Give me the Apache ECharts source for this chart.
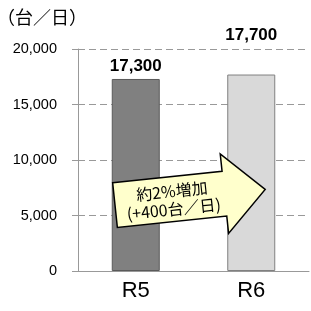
<!DOCTYPE html>
<html><head><meta charset="utf-8">
<script src="https://cdn.jsdelivr.net/npm/echarts@6/dist/echarts.min.js"></script>
<style>html,body{margin:0;padding:0;background:#fff}#c{width:311px;height:311px}</style>
</head><body><div id="c"></div>
<script>
const categories = ['R5', 'R6'];
const values = [17300, 17700];
const yTicks = [0, 5000, 10000, 15000, 20000];
const unitLabel = '（台／日）';
const arrowText = ['約2%増加', '(+400台／日)'];

const chart = echarts.init(document.getElementById('c'), null, {renderer: 'canvas'});
const fills = ['#808080', '#d9d9d9'];
const borders = ['#5a5a5a', '#808080'];
const labelOffsets = [[0, 0], [0, -27]];
const data = values.map((v, i) => ({
  value: v,
  itemStyle: {color: fills[i], borderColor: borders[i], borderWidth: 1},
  label: {offset: labelOffsets[i]}
}));
const font = 'Arial, "Liberation Sans", sans-serif';
const cjk = '"Noto Sans CJK JP", sans-serif';
chart.setOption({
  animation: false,
  grid: {left: 78, right: 2, top: 49, bottom: 40},
  xAxis: {
    type: 'category', data: categories,
    axisLine: {lineStyle: {color: '#999'}},
    axisTick: {length: 7, lineStyle: {color: '#999'}},
    axisLabel: {fontSize: 22, color: '#000', fontFamily: font, margin: 9}
  },
  yAxis: {
    type: 'value', min: yTicks[0], max: yTicks[yTicks.length - 1], interval: yTicks[1] - yTicks[0],
    axisLine: {show: true, lineStyle: {color: '#999'}},
    axisTick: {show: true, length: 6, lineStyle: {color: '#999'}},
    splitLine: {lineStyle: {color: '#999', type: [7, 4], width: 1}},
    axisLabel: {fontSize: 14.5, color: '#000', fontFamily: font, margin: 21,
      formatter: v => v.toLocaleString('en-US')}
  },
  graphic: [
    {type: 'text', x: -3, y: 17.5, style: {text: unitLabel, fontSize: 18, fill: '#000', verticalAlign: 'middle', fontFamily: cjk}},
    {type: 'group', x: 189.6, y: 197.3, rotation: 6 * Math.PI / 180, z: 100, zlevel: 1,
      children: [
        {type: 'polygon', z: 100, zlevel: 1, shape: {points: [[-75, -22.5], [35, -22.5], [35, -40], [76, 0], [35, 40], [35, 22.5], [-75, 22.5]]},
          style: {fill: '#ffffcc', stroke: '#000', lineWidth: 1.5}},
        {type: 'text', z: 101, zlevel: 1, x: -17, y: 1, style: {text: arrowText.join('\n'), fontSize: 16, lineHeight: 18, fill: '#000',
          align: 'center', verticalAlign: 'middle', fontFamily: cjk}}
      ]}
  ],
  series: [{
    type: 'bar', data: data, barWidth: 48,
    label: {show: true, position: 'top', distance: 4, fontSize: 17, fontWeight: 'bold', color: '#000', fontFamily: font,
      formatter: p => p.value.toLocaleString('en-US')}
  }]
});
</script></body></html>
